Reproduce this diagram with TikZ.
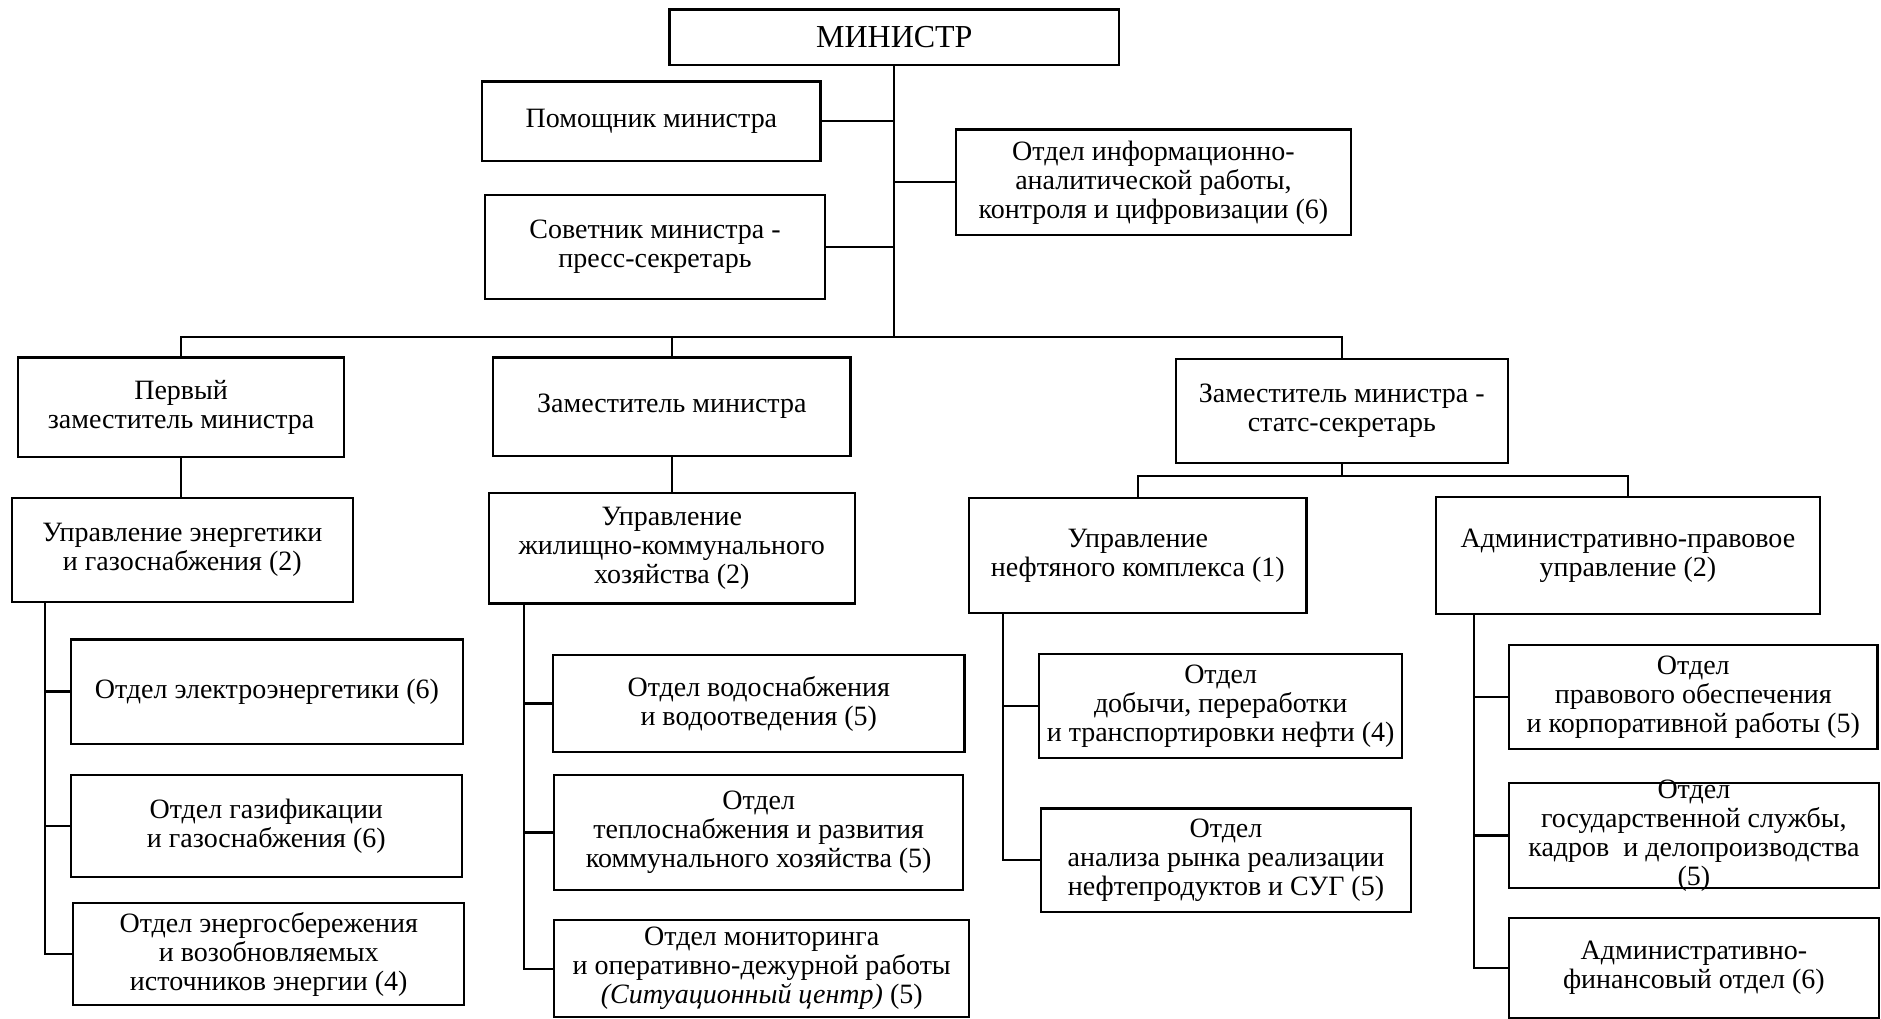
\documentclass[tikz,border=0pt]{standalone}
\usepackage{fontspec}
\setmainfont{Liberation Serif}

\begin{document}
\begin{tikzpicture}[x=0.6pt, y=-0.6pt, line width=1.1pt,
    box/.style={draw, align=center, inner sep=2pt, font=\fontsize{14}{14.5}\selectfont}]
        \useasboundingbox (0,0) rectangle (1568,849);
        % top level
        \node[box, minimum width=225pt, minimum height=27.6pt, font=\fontsize{16}{17}\selectfont] (min) at (745.5,31) {МИНИСТР};
        \node[box, minimum width=169.2pt, minimum height=39.6pt] (pom) at (543,101) {Помощник министра};
        \node[box, minimum width=170.4pt, minimum height=52.2pt] (sov) at (546,206) {Советник министра -\\пресс-секретарь};
        \node[box, minimum width=197.4pt, minimum height=52.8pt] (inf) at (961.5,152) {Отдел информационно-\\аналитической работы,\\контроля и цифровизации (6)};
        % deputies
        \node[box, minimum width=163.2pt, minimum height=49.8pt] (d1) at (151,339.5) {Первый\\заместитель министра};
        \node[box, minimum width=178.8pt, minimum height=49.2pt] (d2) at (560,339) {Заместитель министра};
        \node[box, minimum width=166.2pt, minimum height=52.2pt] (d3) at (1118.5,342.5) {Заместитель министра -\\статс-секретарь};
        % departments
        \node[box, minimum width=170.4pt, minimum height=52.2pt] (u1) at (152,458.5) {Управление энергетики\\и газоснабжения (2)};
        \node[box, minimum width=183pt, minimum height=55.2pt] (u2) at (560,457) {Управление\\жилищно-коммунального\\хозяйства (2)};
        \node[box, minimum width=168.6pt, minimum height=57.6pt] (u3) at (948.5,463) {Управление\\нефтяного комплекса (1)};
        \node[box, minimum width=192pt, minimum height=58.8pt] (u4) at (1357,463) {Административно-правовое\\управление (2)};
        % sections
        \node[box, minimum width=196.2pt, minimum height=52.2pt] (o11) at (222.5,576.5) {Отдел электроэнергетики (6)};
        \node[box, minimum width=195.6pt, minimum height=51pt] (o12) at (222,688.5) {Отдел газификации\\и газоснабжения (6)};
        \node[box, minimum width=195.6pt, minimum height=51pt] (o13) at (224,795.5) {Отдел энергосбережения\\и возобновляемых\\источников энергии (4)};
        \node[box, minimum width=205.8pt, minimum height=48.6pt] (o21) at (632.5,586.5) {Отдел водоснабжения\\и водоотведения (5)};
        \node[box, minimum width=204.6pt, minimum height=57.6pt] (o22) at (632.5,694) {Отдел\\теплоснабжения и развития\\коммунального хозяйства (5)};
        \node[box, minimum width=207.6pt, minimum height=48.6pt] (o23) at (635,807.5) {Отдел мониторинга\\и оперативно-дежурной работы\\\textit{(Ситуационный центр)} (5)};
        \node[box, minimum width=181.8pt, minimum height=52.2pt] (o31) at (1017.5,588.5) {Отдел\\добычи, переработки\\и транспортировки нефти (4)};
        \node[box, minimum width=184.8pt, minimum height=51.6pt] (o32) at (1022,717) {Отдел\\анализа рынка реализации\\нефтепродуктов и СУГ (5)};
        \node[box, minimum width=184.2pt, minimum height=51.9pt] (o41) at (1411.5,581) {Отдел\\правового обеспечения\\и корпоративной работы (5)};
        \node[box, minimum width=184.8pt, minimum height=52.2pt] (o42) at (1412,696.5) {};
        \node[box, draw=none] (o42t) at (o42) {Отдел\\государственной службы,\\кадров~ и делопроизводства\\(5)};
        \node[box, minimum width=184.8pt, minimum height=50.4pt] (o43) at (1412,807) {Административно-\\финансовый отдел (6)};
        % junctions
        \coordinate (bus) at (745.5,281);
        \coordinate (bus2) at (1118.5,397);
        \coordinate (s1) at (37.5,0);
        \coordinate (s2) at (437,0);
        \coordinate (s3) at (836,0);
        \coordinate (s4) at (1229,0);
        % minister
        \draw (min.south) -- (bus);
        \draw (pom.east) -- (pom.east -| min.south);
        \draw (sov.east) -- (sov.east -| min.south);
        \draw (inf.west) -- (inf.west -| min.south);
        \draw (d1.north) |- (bus) -| (d3.north);
        \draw (d2.north) -- (d2.north |- bus);
        % deputies
        \draw (d1.south) -- (d1.south |- u1.north);
        \draw (d2.south) -- (d2.south |- u2.north);
        \draw (d3.south) -- (bus2);
        \draw (u3.north) |- (bus2) -| (u4.north);
        % sections
        \draw (s1 |- u1.south) |- (o13.west);
        \draw (o11.west) -- (o11.west -| s1);
        \draw (o12.west) -- (o12.west -| s1);
        \draw (s2 |- u2.south) |- (o23.west);
        \draw (o21.west) -- (o21.west -| s2);
        \draw (o22.west) -- (o22.west -| s2);
        \draw (s3 |- u3.south) |- (o32.west);
        \draw (o31.west) -- (o31.west -| s3);
        \draw (s4 |- u4.south) |- (o43.west);
        \draw (o41.west) -- (o41.west -| s4);
        \draw (o42.west) -- (o42.west -| s4);
    \end{tikzpicture}
\end{document}
